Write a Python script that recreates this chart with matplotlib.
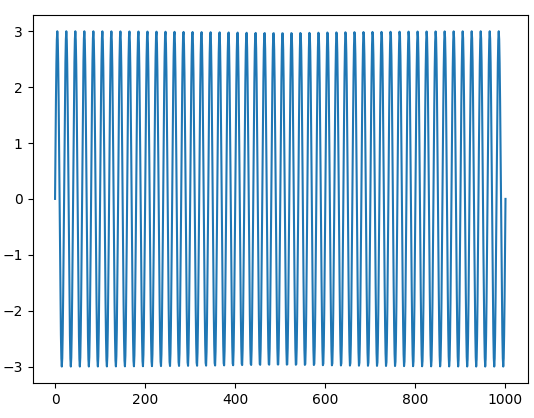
"""Sampled sine wave, amplitude 3, about 50 cycles over 0..1000."""

import matplotlib
matplotlib.use("Agg")
import matplotlib.pyplot as plt
import numpy as np

# values
X_START = 0
X_END = 1000
N_POINTS = 1000
AMPLITUDE = 3.0
PERIOD = 20.0  # one cycle every ~20 units, 50 cycles in total

x = np.linspace(X_START, X_END, N_POINTS)
y = AMPLITUDE * np.sin(2 * np.pi * x / PERIOD)

fig, ax = plt.subplots(figsize=(5.34, 4.18), dpi=100)
fig.subplots_adjust(left=0.0609, right=0.9888, top=0.9653, bottom=0.0830)
ax.plot(x, y, color="#1f77b4", linewidth=1.5)

fig.savefig("out.png", dpi=100, facecolor="white")
plt.close(fig)
